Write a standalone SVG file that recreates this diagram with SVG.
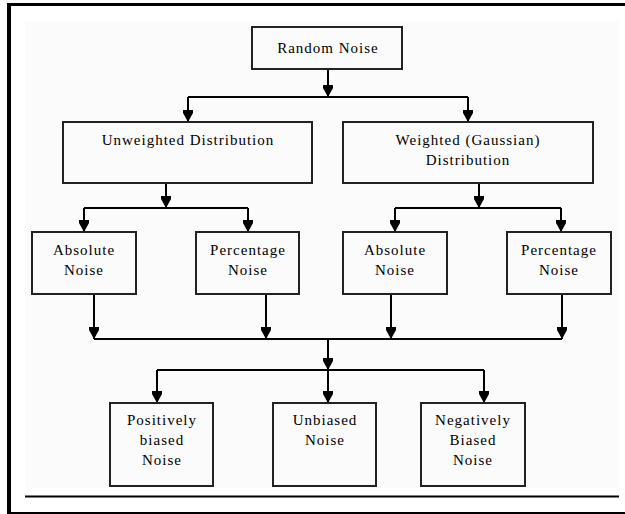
<svg xmlns="http://www.w3.org/2000/svg" width="625" height="514" viewBox="0 0 625 514">
<defs>
<style>
.box{fill:#fbfbfb;stroke:#222;stroke-width:2}
.t{font-family:"Liberation Serif","Times New Roman",serif;font-size:15px;letter-spacing:1px;fill:#000;text-anchor:middle}
.ln{stroke:#000;stroke-width:2;fill:none}
</style>
<marker id="ah" viewBox="0 0 10 12" refX="5" refY="12" markerWidth="10" markerHeight="12" markerUnits="userSpaceOnUse" orient="0">
<path d="M0,0 L10,0 L10,3 L5,12 L0,3 Z" fill="#000"/>
</marker>
</defs>
<rect x="0" y="0" width="625" height="514" fill="#fff"/>
<rect x="25" y="21" width="594" height="467" fill="#fbfbfb"/>
<g id="frame">
<line x1="9" y1="3" x2="9" y2="514" stroke="#000" stroke-width="4"/>
<line x1="7" y1="4.5" x2="625" y2="4.5" stroke="#000" stroke-width="3"/>
<line x1="7" y1="513" x2="625" y2="513" stroke="#000" stroke-width="2"/>
<line x1="25" y1="496.5" x2="619" y2="496.5" stroke="#000" stroke-width="2"/>
</g>
<g id="connectors">
<line class="ln" x1="328" y1="69" x2="328" y2="97" marker-end="url(#ah)"/>
<line class="ln" x1="188" y1="97" x2="468" y2="97"/>
<line class="ln" x1="188" y1="97" x2="188" y2="122" marker-end="url(#ah)"/>
<line class="ln" x1="468" y1="97" x2="468" y2="122" marker-end="url(#ah)"/>
<line class="ln" x1="166" y1="183" x2="166" y2="208" marker-end="url(#ah)"/>
<line class="ln" x1="84" y1="208" x2="248" y2="208"/>
<line class="ln" x1="84" y1="208" x2="84" y2="232" marker-end="url(#ah)"/>
<line class="ln" x1="248" y1="208" x2="248" y2="232" marker-end="url(#ah)"/>
<line class="ln" x1="479" y1="183" x2="479" y2="208" marker-end="url(#ah)"/>
<line class="ln" x1="395" y1="208" x2="561" y2="208"/>
<line class="ln" x1="395" y1="208" x2="395" y2="232" marker-end="url(#ah)"/>
<line class="ln" x1="561" y1="208" x2="561" y2="232" marker-end="url(#ah)"/>
<line class="ln" x1="94" y1="294" x2="94" y2="339" marker-end="url(#ah)"/>
<line class="ln" x1="266" y1="294" x2="266" y2="339" marker-end="url(#ah)"/>
<line class="ln" x1="391" y1="294" x2="391" y2="339" marker-end="url(#ah)"/>
<line class="ln" x1="562" y1="294" x2="562" y2="339" marker-end="url(#ah)"/>
<line class="ln" x1="94" y1="339" x2="562" y2="339"/>
<line class="ln" x1="328" y1="339" x2="328" y2="370" marker-end="url(#ah)"/>
<line class="ln" x1="157" y1="370" x2="484" y2="370"/>
<line class="ln" x1="157" y1="370" x2="157" y2="403" marker-end="url(#ah)"/>
<line class="ln" x1="328" y1="370" x2="328" y2="403" marker-end="url(#ah)"/>
<line class="ln" x1="484" y1="370" x2="484" y2="403" marker-end="url(#ah)"/>
</g>
<g id="random-noise">
<rect class="box" x="252" y="27" width="150" height="42"/>
<text class="t" x="328" y="53">Random Noise</text>
</g>
<g id="unweighted">
<rect class="box" x="63" y="122" width="249" height="61"/>
<text class="t" x="188" y="145">Unweighted Distribution</text>
</g>
<g id="weighted">
<rect class="box" x="343" y="122" width="250" height="61"/>
<text class="t" x="468" y="145">Weighted (Gaussian)</text>
<text class="t" x="468" y="165">Distribution</text>
</g>
<g id="abs1">
<rect class="box" x="32" y="232" width="104" height="62"/>
<text class="t" x="84" y="255">Absolute</text>
<text class="t" x="84" y="275">Noise</text>
</g>
<g id="pct1">
<rect class="box" x="196" y="232" width="103" height="62"/>
<text class="t" x="248" y="255">Percentage</text>
<text class="t" x="248" y="275">Noise</text>
</g>
<g id="abs2">
<rect class="box" x="343" y="232" width="104" height="62"/>
<text class="t" x="395" y="255">Absolute</text>
<text class="t" x="395" y="275">Noise</text>
</g>
<g id="pct2">
<rect class="box" x="507" y="232" width="104" height="62"/>
<text class="t" x="559" y="255">Percentage</text>
<text class="t" x="559" y="275">Noise</text>
</g>
<g id="positive">
<rect class="box" x="110" y="403" width="103" height="83"/>
<text class="t" x="162" y="425">Positively</text>
<text class="t" x="162" y="445">biased</text>
<text class="t" x="162" y="465">Noise</text>
</g>
<g id="unbiased">
<rect class="box" x="273" y="403" width="103" height="83"/>
<text class="t" x="325" y="425">Unbiased</text>
<text class="t" x="325" y="445">Noise</text>
</g>
<g id="negative">
<rect class="box" x="421" y="403" width="104" height="83"/>
<text class="t" x="473" y="425">Negatively</text>
<text class="t" x="473" y="445">Biased</text>
<text class="t" x="473" y="465">Noise</text>
</g>
</svg>
